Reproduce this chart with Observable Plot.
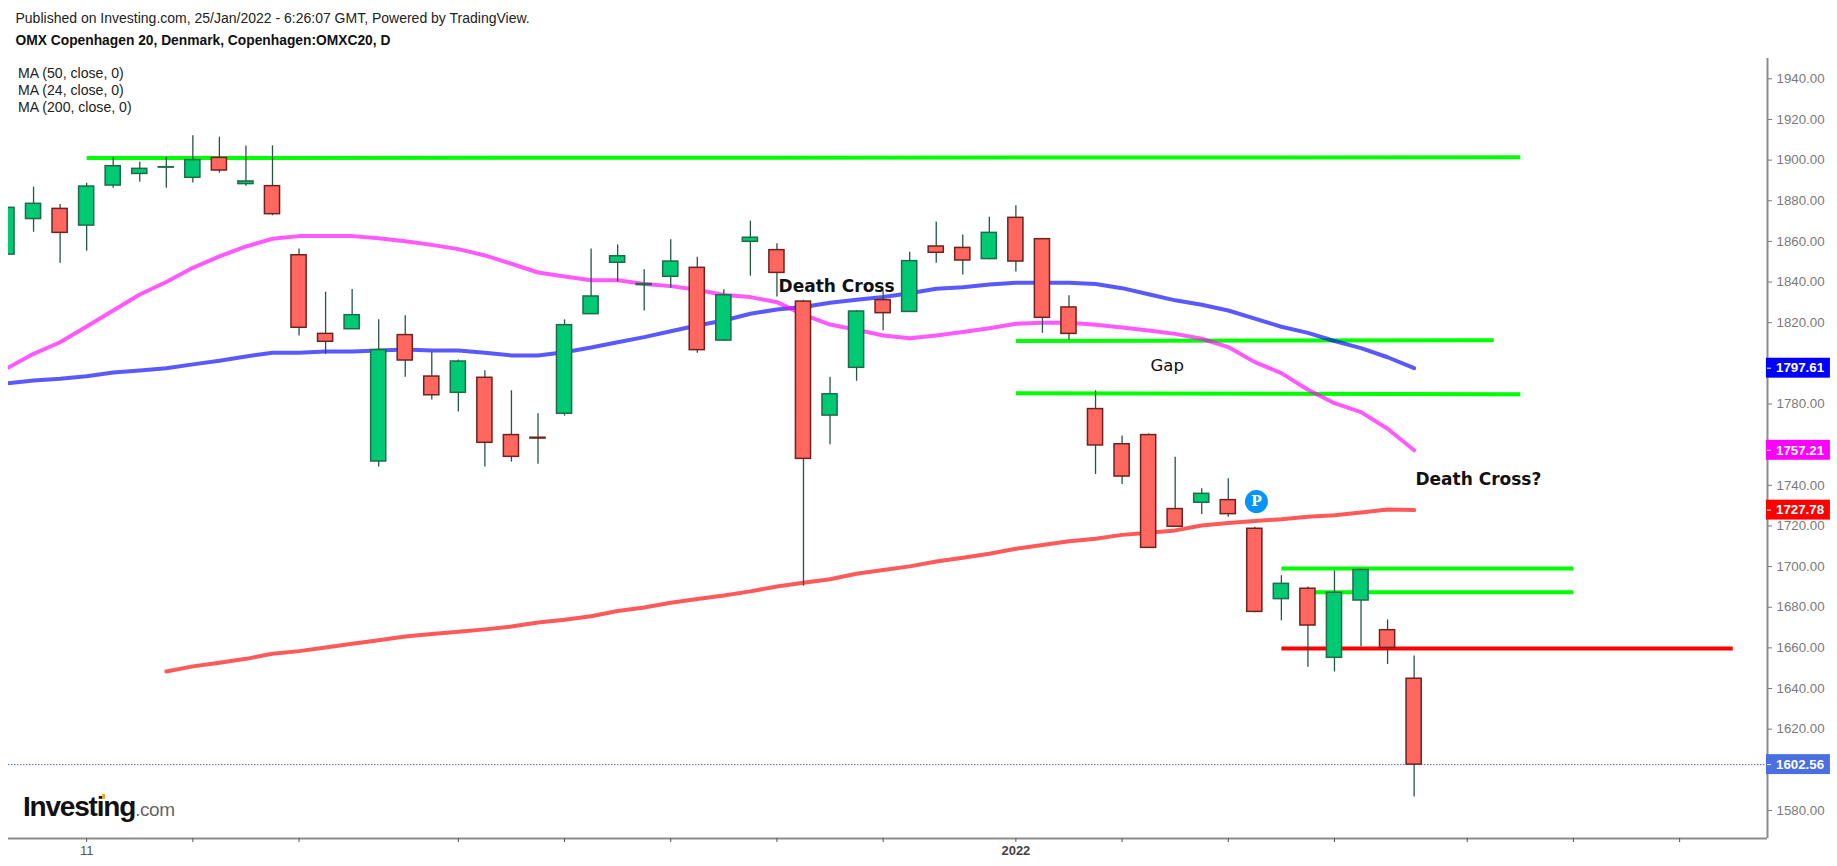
<!DOCTYPE html>
<html>
<head>
<meta charset="utf-8">
<title>OMX Copenhagen 20</title>
<script src="https://cdn.jsdelivr.net/npm/d3@7"></script>
<script src="https://cdn.jsdelivr.net/npm/@observablehq/plot@0.6"></script>
<style>
html,body{margin:0;padding:0;background:#fff;overflow:hidden;width:1837px;height:866px}
body{position:relative;font-family:"Liberation Sans",Arial,sans-serif;color:#111}
#head{height:58px;position:relative}
#pub{position:absolute;left:15.5px;top:10px;font-size:14px;line-height:16px;color:#222;white-space:nowrap}
#ttl{position:absolute;left:15.5px;top:33px;font-size:13.8px;line-height:16px;font-weight:bold;color:#111;white-space:nowrap}
#legend{position:absolute;left:18px;top:65px;font-size:14.1px;line-height:17px;color:#222;z-index:2}
#logo{position:absolute;left:23px;top:790px;height:34px;line-height:34px;white-space:nowrap;z-index:2}
#logo b{font-size:28px;letter-spacing:-1.2px;color:#111}
#logo span{font-size:19px;color:#666;letter-spacing:-.4px}
#logo i{position:absolute;left:79px;top:4px;width:3px;height:5px;background:#f5a623}
svg{display:block}
</style>
</head>
<body>
<div id="head">
<div id="pub">Published on Investing.com, 25/Jan/2022 - 6:26:07 GMT, Powered by TradingView.</div>
<div id="ttl">OMX Copenhagen 20, Denmark, Copenhagen:OMXC20, D</div>
</div>
<div id="legend"><div>MA (50, close, 0)</div><div>MA (24, close, 0)</div><div>MA (200, close, 0)</div></div>
<div id="logo"><b>Investing</b><span>.com</span><i></i></div>
<div id="chart"></div>
<script>
const opens  = [1853.5,1871,1876,1867.8,1887.5,1893.2,1896.3,1891.3,1901.1,1888.2,1887.2,1853.2,1814.5,1816.8,1751.7,1813.9,1793.5,1785.5,1792.9,1764.7,1763.4,1775.2,1824.2,1849.5,1838.5,1842.6,1847,1811.2,1859.8,1855.7,1830.4,1774.3,1797.8,1831.1,1825.3,1857.5,1856.8,1851.3,1871.6,1861.1,1827.5,1777.5,1760.2,1764.7,1728.3,1731.4,1732.7,1718.6,1684,1689.1,1655.1,1683.3,1668.7,1644.8];
const highs  = [1876.5,1886.7,1878.1,1888.6,1901.4,1899,1901.4,1912,1911.3,1907,1907,1856.3,1835,1836.3,1821.4,1823.4,1805.5,1801.7,1796.3,1786.5,1775.2,1821.4,1856.3,1858.3,1846,1860.8,1852.2,1836.2,1870,1858.8,1831,1793.2,1826,1835.5,1854.7,1869.5,1863.2,1871.9,1877.5,1861.5,1833.3,1786.5,1764.3,1765.3,1753.8,1738.3,1743.2,1719.4,1695.5,1689.9,1697.8,1698.6,1673.8,1656];
const lows   = [1853.5,1864.5,1849.3,1855.2,1886.2,1889.1,1886.2,1888.7,1893.6,1887.2,1872.6,1813.4,1804.4,1816.8,1749,1793.2,1782,1776,1749,1751.4,1750.3,1774,1824.2,1840,1825.7,1837,1805,1810.9,1842.9,1832.6,1690.3,1759.9,1791.2,1816,1825,1849.3,1843.5,1851,1844.9,1814.8,1811.2,1745.3,1740.4,1709,1719.5,1725.6,1724.3,1677.3,1673.3,1650.5,1648.1,1660.4,1651.8,1586.6];
const closes = [1876.5,1878.5,1864.2,1887,1897,1895.7,1896.5,1900,1894.9,1889.5,1873.4,1817.5,1810.6,1823.7,1806.5,1801.4,1784.3,1800.9,1760.9,1754,1763,1818.8,1832.9,1852.7,1839,1850.1,1806.5,1833.5,1861.8,1844.5,1753,1784.8,1825.5,1824.7,1850.3,1854.4,1850.6,1864.2,1850.1,1822.4,1814.5,1759.6,1744.3,1709.2,1719.6,1735.8,1725.8,1677.7,1691.5,1671,1687.1,1698.3,1660,1602.56];

const ma24 = [1797.6,1804.7,1810.4,1818.1,1826,1833.9,1840,1847,1852.6,1857.5,1861.3,1862.6,1862.6,1862.6,1861.6,1860.1,1858.3,1856.2,1853.1,1849,1844.7,1842.7,1840.9,1840.9,1839.1,1838,1836.2,1833.6,1832.6,1830.1,1824,1819.1,1816.5,1813.7,1812.4,1813.7,1815.4,1817.3,1819.5,1820,1820,1819,1817.6,1816.2,1814.5,1812.1,1808,1800.6,1795.2,1787,1780.4,1776,1767.8,1757.21];
const ma50 = [1790.1,1791.6,1792.4,1793.7,1795.5,1796.5,1797.6,1799.5,1801.3,1803.4,1805.2,1805.2,1805.8,1805.8,1806.3,1806.8,1806.3,1806.3,1805.2,1803.9,1803.9,1805.5,1807.8,1810.4,1812.9,1815.8,1818.6,1821.1,1824.4,1826.5,1827.7,1829.8,1831.3,1832.6,1834.5,1836.7,1837.5,1838.8,1839.6,1839.6,1839.6,1839,1837,1834,1831,1828.8,1826,1822,1818,1815,1811,1807.5,1803,1797.61];
const ma200Start = 6;
const ma200 = [1648.4,1650.9,1652.7,1654.6,1657.1,1658.4,1660.2,1662,1663.8,1665.6,1666.8,1667.9,1669.1,1670.5,1672.5,1673.8,1675.6,1678.1,1679.9,1682.2,1684,1685.8,1687.8,1690.2,1692,1693.8,1696.5,1698.3,1700.1,1702.5,1704.3,1706.3,1708.8,1710.6,1712.5,1713.7,1715.6,1716.6,1717.8,1720.2,1721.4,1722.4,1723.3,1724.5,1725.2,1726.6,1728.1,1727.78];

const levelGreen = [
  {x1:3, x2:57, y1:1901, y2:1901.4},
  {x1:38,x2:56, y1:1811, y2:1811.4},
  {x1:38,x2:57, y1:1785.3, y2:1784.8},
  {x1:48,x2:59, y1:1699.1, y2:1699.1},
  {x1:49,x2:59, y1:1687.4, y2:1687.4}
];
const levelRed = [{x1:48,x2:65,y1:1659.7,y2:1659.7}];

const yTicks = d3.range(1580,1941,20);
const coveredLabels = [1800,1760,1600];
const minorTicks = [7,11,17,21,25,29,33,42,46,50,55,59,63];
const priceTags = [
  {v:1797.61,fill:"#0000ff"},
  {v:1757.21,fill:"#ff00ff"},
  {v:1727.78,fill:"#ff0000"},
  {v:1602.56,fill:"#4a6fe3"}
];
const boldNotes = [
  {t:"Death Cross",i:29.06,v:1838},
  {t:"Death Cross?",i:53.05,v:1742.9}
];
const plainNotes = [{t:"Gap",i:43.07,v:1799}];

const candles = opens.map((o,i)=>({i,o,h:highs[i],l:lows[i],c:closes[i],up:closes[i]>=o}));
const xDomain = [0.0565,66.31];
const yDomain = [1566.2,1950];
const sans = '"Liberation Sans",Arial,sans-serif';
const dejavu = '"DejaVu Sans",Verdana,sans-serif';
const half = 0.285;

const chart = Plot.plot({
  width:1837, height:808,
  marginLeft:8, marginRight:70, marginTop:0, marginBottom:28,
  style:{background:"#fff",fontFamily:sans,overflow:"visible"},
  x:{domain:xDomain,axis:null},
  y:{domain:yDomain,axis:null},
  marks:[
    Plot.link(levelGreen,{x1:"x1",x2:"x2",y1:"y1",y2:"y2",stroke:"#00ff00",strokeWidth:4,curve:"linear",strokeLinecap:"butt"}),
    Plot.link(levelRed,{x1:"x1",x2:"x2",y1:"y1",y2:"y2",stroke:"#ff0000",strokeWidth:4,curve:"linear",strokeLinecap:"butt"}),
    Plot.line(ma50,{x:(d,i)=>i,y:d=>d,stroke:"#0000ff",strokeOpacity:.65,strokeWidth:4,clip:true,curve:"linear",strokeLinejoin:"round"}),
    Plot.line(ma24,{x:(d,i)=>i,y:d=>d,stroke:"#ff00ff",strokeOpacity:.65,strokeWidth:4,clip:true,curve:"linear",strokeLinejoin:"round"}),
    Plot.line(ma200,{x:(d,i)=>i+ma200Start,y:d=>d,stroke:"#ff0000",strokeOpacity:.65,strokeWidth:4,curve:"linear",strokeLinejoin:"round"}),
    Plot.ruleY([1602.56],{stroke:"#4a6fe3",strokeWidth:1,strokeDasharray:"1.5,1.5"}),
    Plot.ruleX(candles,{x:"i",y1:"l",y2:"h",stroke:"#23583f",strokeWidth:1.3,clip:true}),
    Plot.rect(candles,{x1:d=>d.i-half,x2:d=>d.i+half,y1:d=>Math.min(d.o,d.c),y2:d=>Math.max(d.o,d.c),
      fill:d=>d.up?"#00c973":"#ff675f",stroke:d=>d.up?"#1f6b4a":"#6e2320",strokeWidth:1.5,clip:true}),
    Plot.dot([{i:47.06,v:1732}],{x:"i",y:"v",r:11.5,fill:"#0794f7"}),
    Plot.text([{i:47.06,v:1732}],{x:"i",y:"v",text:()=>"P",fill:"#fff",fontSize:14,fontWeight:"bold",fontFamily:'"DejaVu Serif",serif'}),
    Plot.text(boldNotes,{x:"i",y:"v",text:"t",textAnchor:"start",fontFamily:dejavu,fontSize:17,fontWeight:"bold",fill:"#111"}),
    Plot.text(plainNotes,{x:"i",y:"v",text:"t",textAnchor:"start",fontFamily:dejavu,fontSize:16.5,fill:"#111"}),
    Plot.ruleY([yDomain[0]],{stroke:"#8c8c8c",strokeWidth:2}),
    Plot.ruleX([xDomain[1]],{stroke:"#8c8c8c",strokeWidth:2}),
    Plot.axisY({anchor:"right",ticks:yTicks,tickFormat:d=>coveredLabels.includes(d)?"":d.toFixed(2),tickSize:4,tickPadding:5,fontSize:13.3,color:"#7a7a7a",stroke:"#7a7a7a",label:null}),
    Plot.axisX({ticks:minorTicks,tickFormat:()=>"",tickSize:4,color:"#555",stroke:"#555",label:null}),
    Plot.axisX({ticks:[3],tickFormat:()=>"11",tickSize:4,tickPadding:3,fontSize:13,color:"#555",stroke:"#555",label:null}),
    Plot.axisX({ticks:[38],tickFormat:()=>"2022",tickSize:4,tickPadding:3,fontSize:13,fontWeight:"bold",color:"#444",stroke:"#555",label:null}),
    Plot.rect(priceTags,{x1:66.27,x2:68.68,y1:d=>d.v-4.9,y2:d=>d.v+4.9,fill:"fill"}),
    Plot.ruleY(priceTags,{y:"v",x1:66.31,x2:66.46,stroke:"#fff",strokeWidth:1}),
    Plot.text(priceTags,{x:66.63,y:"v",text:d=>d.v.toFixed(2),textAnchor:"start",fill:"#fff",fontSize:13.3,fontWeight:"bold"})
  ]
});
document.getElementById("chart").appendChild(chart);
</script>
</body>
</html>
